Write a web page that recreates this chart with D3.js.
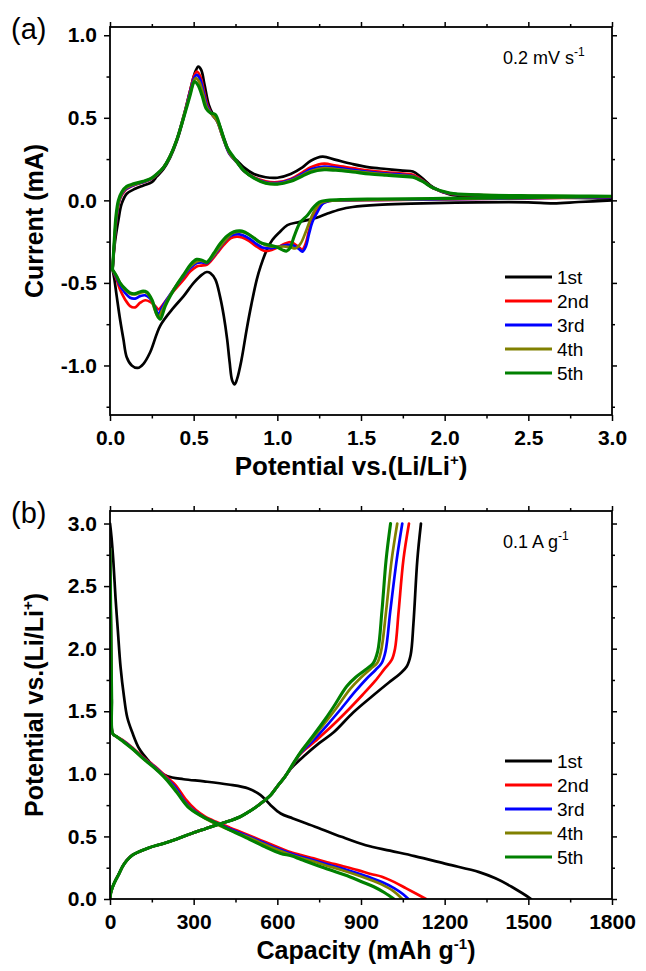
<!DOCTYPE html>
<html><head><meta charset="utf-8">
<script src="https://cdn.jsdelivr.net/npm/d3@7"></script>
<style>
body{margin:0;background:#fff}
svg{display:block}
text{font-family:"Liberation Sans",Arial,sans-serif;fill:#000}
</style>
</head><body>
<svg id="c" width="646" height="971"></svg>
<script>
// ---------- labels / colours ----------
const cycleLabels = ["1st", "2nd", "3rd", "4th", "5th"];
const cycleColors = ["#000000", "#ff0000", "#0000ff", "#808000", "#008000"];

// ---------- panel (a): CV, [potential V, current mA] ----------
const cvCathodic1 = [[3.0,0.0],[2.8,-0.01],[2.65,-0.018],[2.5,-0.012],[2.2,-0.012],[2.0,-0.015],[1.8,-0.02],[1.6,-0.027],[1.45,-0.04],[1.375,-0.055],[1.3,-0.08],[1.235,-0.105],[1.135,-0.13],[1.06,-0.15],[1.016,-0.19],[0.97,-0.24],[0.937,-0.30],[0.9,-0.4],[0.877,-0.48],[0.845,-0.63],[0.817,-0.78],[0.785,-0.97],[0.76,-1.08],[0.745,-1.115],[0.73,-1.09],[0.715,-0.98],[0.70,-0.84],[0.68,-0.7],[0.657,-0.58],[0.63,-0.48],[0.6,-0.44],[0.578,-0.434],[0.55,-0.45],[0.5,-0.5],[0.44,-0.58],[0.38,-0.65],[0.3,-0.76],[0.24,-0.92],[0.2,-0.99],[0.165,-1.015],[0.13,-1.0],[0.1,-0.95],[0.08,-0.84],[0.06,-0.72],[0.04,-0.58],[0.025,-0.47],[0.015,-0.42]];
const cvAnodic1 = [[0.015,-0.42],[0.03,-0.25],[0.05,-0.12],[0.07,-0.02],[0.1,0.04],[0.15,0.07],[0.2,0.09],[0.25,0.11],[0.28,0.145],[0.32,0.19],[0.36,0.26],[0.4,0.36],[0.44,0.5],[0.48,0.67],[0.51,0.78],[0.528,0.81],[0.545,0.79],[0.565,0.7],[0.59,0.58],[0.616,0.52],[0.645,0.48],[0.68,0.38],[0.72,0.28],[0.76,0.24],[0.8,0.2],[0.86,0.16],[0.93,0.14],[1.0,0.137],[1.08,0.16],[1.15,0.2],[1.2,0.24],[1.27,0.265],[1.35,0.245],[1.45,0.22],[1.55,0.2],[1.65,0.19],[1.75,0.18],[1.81,0.175],[1.86,0.14],[1.93,0.08],[2.03,0.036],[2.2,0.025],[2.5,0.02],[2.8,0.015],[3.0,0.012]];

const cvCathodic2 = [[3.0,0.02],[2.5,0.012],[2.0,0.006],[1.6,0.002],[1.4,0.0],[1.3,-0.006],[1.27,-0.02],[1.24,-0.06],[1.215,-0.105],[1.19,-0.18],[1.17,-0.26],[1.15,-0.297],[1.13,-0.285],[1.1,-0.262],[1.076,-0.253],[1.04,-0.265],[1.0,-0.285],[0.95,-0.305],[0.92,-0.305],[0.87,-0.275],[0.83,-0.245],[0.79,-0.225],[0.757,-0.22],[0.72,-0.23],[0.68,-0.27],[0.64,-0.32],[0.6,-0.37],[0.578,-0.39],[0.545,-0.395],[0.518,-0.40],[0.48,-0.43],[0.44,-0.48],[0.38,-0.55],[0.34,-0.6],[0.31,-0.64],[0.29,-0.66],[0.27,-0.64],[0.24,-0.615],[0.21,-0.605],[0.18,-0.62],[0.15,-0.648],[0.12,-0.64],[0.09,-0.6],[0.06,-0.54],[0.04,-0.48],[0.015,-0.42]];
const cvAnodic2 = [[0.015,-0.42],[0.025,-0.28],[0.04,-0.1],[0.06,0.01],[0.09,0.06],[0.14,0.09],[0.2,0.11],[0.25,0.13],[0.28,0.155],[0.32,0.2],[0.36,0.27],[0.4,0.37],[0.44,0.51],[0.48,0.67],[0.505,0.76],[0.52,0.78],[0.54,0.75],[0.56,0.67],[0.585,0.57],[0.61,0.52],[0.64,0.48],[0.675,0.38],[0.715,0.28],[0.76,0.23],[0.8,0.18],[0.86,0.14],[0.93,0.115],[1.0,0.11],[1.08,0.13],[1.15,0.17],[1.2,0.2],[1.28,0.222],[1.35,0.21],[1.45,0.195],[1.55,0.18],[1.65,0.17],[1.75,0.162],[1.81,0.155],[1.87,0.12],[1.93,0.075],[2.03,0.04],[2.2,0.03],[2.5,0.025],[2.8,0.022],[3.0,0.02]];

const cvCathodic3 = [[3.0,0.02],[2.5,0.013],[2.0,0.007],[1.6,0.003],[1.4,0.0],[1.3,-0.006],[1.27,-0.02],[1.24,-0.07],[1.21,-0.13],[1.19,-0.2],[1.17,-0.28],[1.15,-0.31],[1.13,-0.295],[1.1,-0.275],[1.07,-0.27],[1.03,-0.275],[0.99,-0.285],[0.95,-0.29],[0.91,-0.285],[0.87,-0.26],[0.83,-0.23],[0.79,-0.21],[0.76,-0.205],[0.72,-0.215],[0.68,-0.255],[0.64,-0.31],[0.6,-0.36],[0.578,-0.38],[0.545,-0.375],[0.518,-0.38],[0.48,-0.41],[0.44,-0.46],[0.38,-0.54],[0.34,-0.6],[0.31,-0.65],[0.29,-0.69],[0.27,-0.65],[0.24,-0.595],[0.21,-0.575],[0.18,-0.58],[0.15,-0.595],[0.12,-0.59],[0.09,-0.56],[0.06,-0.515],[0.04,-0.47],[0.015,-0.42]];
const cvAnodic3 = [[0.015,-0.42],[0.025,-0.27],[0.04,-0.09],[0.06,0.015],[0.09,0.065],[0.14,0.092],[0.2,0.112],[0.25,0.132],[0.28,0.157],[0.32,0.2],[0.36,0.27],[0.4,0.37],[0.44,0.51],[0.48,0.66],[0.505,0.745],[0.518,0.76],[0.538,0.735],[0.558,0.66],[0.583,0.565],[0.61,0.52],[0.64,0.48],[0.675,0.38],[0.715,0.28],[0.76,0.228],[0.8,0.178],[0.86,0.138],[0.93,0.11],[1.0,0.105],[1.08,0.125],[1.15,0.16],[1.2,0.188],[1.28,0.205],[1.35,0.198],[1.45,0.185],[1.55,0.172],[1.65,0.162],[1.75,0.155],[1.81,0.148],[1.87,0.117],[1.93,0.075],[2.03,0.042],[2.2,0.032],[2.5,0.026],[2.8,0.023],[3.0,0.021]];

const cvCathodic4 = [[3.0,0.022],[2.5,0.015],[2.0,0.009],[1.6,0.004],[1.4,0.001],[1.3,-0.004],[1.26,-0.015],[1.23,-0.05],[1.2,-0.11],[1.17,-0.19],[1.14,-0.26],[1.11,-0.29],[1.08,-0.285],[1.05,-0.28],[1.01,-0.28],[0.97,-0.28],[0.93,-0.272],[0.89,-0.25],[0.85,-0.22],[0.81,-0.198],[0.77,-0.19],[0.73,-0.2],[0.69,-0.24],[0.65,-0.29],[0.61,-0.345],[0.578,-0.375],[0.545,-0.365],[0.518,-0.37],[0.48,-0.4],[0.44,-0.455],[0.38,-0.54],[0.34,-0.61],[0.31,-0.67],[0.29,-0.71],[0.27,-0.67],[0.24,-0.585],[0.21,-0.555],[0.18,-0.56],[0.15,-0.57],[0.12,-0.565],[0.09,-0.54],[0.06,-0.5],[0.04,-0.46],[0.015,-0.42]];
const cvAnodic4 = [[0.015,-0.42],[0.025,-0.26],[0.04,-0.08],[0.06,0.02],[0.09,0.07],[0.14,0.095],[0.2,0.114],[0.25,0.134],[0.28,0.158],[0.32,0.2],[0.36,0.27],[0.4,0.37],[0.44,0.51],[0.48,0.65],[0.5,0.72],[0.512,0.74],[0.532,0.72],[0.555,0.65],[0.58,0.56],[0.61,0.52],[0.64,0.48],[0.675,0.38],[0.715,0.285],[0.76,0.228],[0.8,0.178],[0.86,0.136],[0.93,0.106],[1.0,0.1],[1.08,0.12],[1.15,0.153],[1.2,0.178],[1.28,0.195],[1.35,0.19],[1.45,0.178],[1.55,0.166],[1.65,0.157],[1.75,0.15],[1.81,0.144],[1.87,0.115],[1.93,0.075],[2.03,0.043],[2.2,0.033],[2.5,0.027],[2.8,0.024],[3.0,0.022]];

const cvCathodic5 = [[3.0,0.025],[2.5,0.018],[2.0,0.012],[1.6,0.008],[1.4,0.005],[1.3,0.0],[1.25,-0.01],[1.215,-0.044],[1.18,-0.09],[1.136,-0.135],[1.1,-0.22],[1.075,-0.29],[1.056,-0.307],[1.03,-0.3],[1.0,-0.285],[0.95,-0.27],[0.9,-0.256],[0.85,-0.22],[0.8,-0.19],[0.777,-0.185],[0.74,-0.19],[0.7,-0.215],[0.66,-0.26],[0.62,-0.32],[0.59,-0.365],[0.578,-0.375],[0.55,-0.362],[0.518,-0.357],[0.48,-0.39],[0.44,-0.45],[0.4,-0.51],[0.36,-0.58],[0.33,-0.64],[0.3,-0.72],[0.28,-0.69],[0.25,-0.6],[0.22,-0.555],[0.19,-0.55],[0.15,-0.565],[0.12,-0.56],[0.09,-0.535],[0.06,-0.5],[0.04,-0.46],[0.015,-0.42]];
const cvAnodic5 = [[0.015,-0.42],[0.025,-0.25],[0.035,-0.1],[0.05,0.0],[0.07,0.05],[0.1,0.085],[0.14,0.1],[0.2,0.116],[0.25,0.136],[0.28,0.16],[0.32,0.2],[0.36,0.27],[0.4,0.37],[0.44,0.5],[0.48,0.64],[0.495,0.70],[0.505,0.72],[0.525,0.70],[0.55,0.635],[0.575,0.555],[0.6,0.53],[0.63,0.52],[0.66,0.44],[0.7,0.32],[0.74,0.26],[0.8,0.18],[0.86,0.135],[0.93,0.104],[1.0,0.098],[1.08,0.115],[1.15,0.147],[1.2,0.17],[1.28,0.185],[1.35,0.182],[1.45,0.172],[1.55,0.16],[1.65,0.152],[1.75,0.145],[1.81,0.14],[1.87,0.113],[1.93,0.076],[2.03,0.045],[2.2,0.034],[2.5,0.028],[2.8,0.026],[3.0,0.025]];

// ---------- panel (b): galvanostatic, [capacity mAh/g, potential V] ----------
const dis1 = [[0,3.0],[5,2.9],[12,2.7],[20,2.4],[28,2.15],[38,1.85],[50,1.62],[62,1.45],[80,1.33],[105,1.2],[140,1.1],[170,1.03],[206,0.98],[264,0.957],[337,0.94],[424,0.915],[496,0.883],[540,0.83],[576,0.75],[612,0.683],[656,0.644],[743,0.572],[830,0.497],[917,0.43],[1004,0.386],[1092,0.343],[1208,0.279],[1324,0.215],[1382,0.165],[1440,0.098],[1490,0.03],[1510,0.0]];
const chg1 = [[0,0.0],[3,0.05],[10,0.1],[20,0.15],[32,0.2],[45,0.26],[61,0.31],[80,0.35],[104,0.378],[140,0.41],[192,0.444],[240,0.48],[293,0.524],[340,0.56],[380,0.59],[430,0.625],[467,0.657],[500,0.7],[525,0.737],[550,0.78],[576,0.83],[600,0.9],[627,0.976],[650,1.045],[700,1.15],[750,1.245],[801,1.33],[872,1.49],[940,1.62],[1000,1.73],[1040,1.8],[1064,1.858],[1078,1.95],[1088,2.2],[1102,2.71],[1115,3.0]];

const dis2 = [[0,2.8],[3,2.2],[6,1.6],[10,1.32],[22,1.3],[46,1.27],[80,1.21],[120,1.13],[163,1.056],[200,0.98],[235,0.91],[270,0.8],[308,0.71],[340,0.66],[380,0.617],[430,0.57],[482,0.524],[540,0.47],[598,0.418],[640,0.38],[685,0.351],[730,0.325],[772,0.298],[830,0.265],[888,0.231],[935,0.2],[975,0.178],[1020,0.135],[1062,0.085],[1100,0.04],[1133,0.0]];
const chg2 = [[0,0.0],[3,0.05],[10,0.1],[20,0.15],[32,0.2],[45,0.26],[61,0.31],[80,0.35],[104,0.378],[140,0.41],[192,0.444],[240,0.48],[293,0.524],[340,0.56],[380,0.59],[430,0.625],[467,0.657],[500,0.7],[525,0.737],[550,0.78],[576,0.83],[600,0.9],[627,0.976],[650,1.05],[681,1.155],[735,1.26],[790,1.37],[845,1.49],[905,1.63],[950,1.74],[985,1.84],[1010,1.91],[1022,2.0],[1035,2.3],[1052,2.71],[1072,3.0]];

const dis3 = [[0,2.8],[3,2.2],[6,1.6],[10,1.32],[22,1.3],[46,1.265],[80,1.205],[120,1.125],[163,1.05],[200,0.97],[235,0.89],[270,0.775],[305,0.7],[340,0.65],[380,0.61],[430,0.56],[482,0.514],[540,0.46],[598,0.405],[640,0.37],[685,0.338],[730,0.31],[772,0.282],[830,0.245],[888,0.205],[935,0.17],[975,0.135],[1020,0.085],[1050,0.04],[1070,0.0]];
const chg3 = [[0,0.0],[3,0.05],[10,0.1],[20,0.15],[32,0.2],[45,0.26],[61,0.31],[80,0.35],[104,0.378],[140,0.41],[192,0.444],[240,0.48],[293,0.524],[340,0.56],[380,0.59],[430,0.625],[467,0.657],[500,0.7],[525,0.737],[550,0.78],[576,0.83],[600,0.9],[627,0.976],[650,1.052],[681,1.16],[730,1.27],[775,1.38],[825,1.51],[880,1.66],[920,1.76],[952,1.83],[974,1.885],[988,1.98],[1005,2.3],[1028,2.71],[1048,3.0]];

const dis4 = [[0,2.8],[3,2.2],[6,1.6],[10,1.32],[22,1.3],[46,1.262],[80,1.2],[120,1.12],[163,1.045],[200,0.965],[235,0.875],[270,0.765],[305,0.695],[340,0.645],[380,0.6],[430,0.552],[482,0.505],[540,0.45],[598,0.395],[640,0.36],[685,0.327],[730,0.3],[772,0.27],[830,0.232],[888,0.19],[935,0.152],[975,0.115],[1015,0.065],[1048,0.0]];
const chg4 = [[0,0.0],[3,0.05],[10,0.1],[20,0.15],[32,0.2],[45,0.26],[61,0.31],[80,0.35],[104,0.378],[140,0.41],[192,0.444],[240,0.48],[293,0.524],[340,0.56],[380,0.59],[430,0.625],[467,0.657],[500,0.7],[525,0.737],[550,0.78],[576,0.83],[600,0.9],[627,0.976],[650,1.055],[681,1.163],[725,1.28],[765,1.39],[810,1.52],[862,1.68],[900,1.77],[935,1.84],[958,1.885],[972,1.98],[990,2.3],[1010,2.71],[1030,3.0]];

const dis5 = [[0,2.8],[3,2.2],[6,1.6],[10,1.32],[22,1.3],[46,1.26],[80,1.2],[120,1.12],[163,1.04],[200,0.96],[240,0.85],[279,0.737],[322,0.67],[395,0.59],[440,0.54],[482,0.497],[554,0.418],[612,0.364],[650,0.345],[685,0.316],[772,0.245],[859,0.178],[900,0.14],[946,0.098],[985,0.05],[1018,0.0]];
const chg5 = [[0,0.0],[3,0.05],[10,0.1],[20,0.15],[32,0.2],[45,0.26],[61,0.31],[80,0.35],[104,0.378],[140,0.41],[192,0.444],[240,0.48],[293,0.524],[340,0.56],[380,0.59],[430,0.625],[467,0.657],[500,0.7],[525,0.737],[550,0.78],[576,0.83],[600,0.9],[627,0.976],[650,1.058],[681,1.166],[720,1.28],[760,1.4],[800,1.53],[849,1.70],[880,1.77],[915,1.83],[944,1.885],[960,1.98],[975,2.3],[990,2.71],[1006,3.0]];

// ---------- ticks ----------
const cvXTicks = [0, 0.5, 1.0, 1.5, 2.0, 2.5, 3.0];
const cvYTicks = [-1.0, -0.5, 0.0, 0.5, 1.0];
const gcXTicks = [0, 300, 600, 900, 1200, 1500, 1800];
const gcYTicks = [0.0, 0.5, 1.0, 1.5, 2.0, 2.5, 3.0];

const cvSeries = [cvCathodic1.concat(cvAnodic1), cvCathodic2.concat(cvAnodic2), cvCathodic3.concat(cvAnodic3), cvCathodic4.concat(cvAnodic4), cvCathodic5.concat(cvAnodic5)];
const gcSeries = [[dis1, chg1], [dis2, chg2], [dis3, chg3], [dis4, chg4], [dis5, chg5]];

const svg = d3.select("#c");
const L = 110, R = 612;

function minorOf(ticks){
  const out = [];
  for (let i = 0; i < ticks.length - 1; i++) out.push((ticks[i] + ticks[i+1]) / 2);
  return out;
}

function panel(cfg){
  const x = d3.scaleLinear().domain(cfg.xd).range([L, R]);
  const y = d3.scaleLinear().domain(cfg.yd).range([cfg.bottom, cfg.top]);
  const g = svg.append("g");
  const clipId = "clip" + cfg.id;
  svg.append("clipPath").attr("id", clipId).append("rect")
    .attr("x", L).attr("y", cfg.top).attr("width", R - L).attr("height", cfg.bottom - cfg.top);

  const line = d3.line().x(d => x(d[0])).y(d => y(d[1])).curve(d3.curveCatmullRom.alpha(0.5));
  const lg = g.append("g").attr("clip-path", `url(#${clipId})`);
  cfg.series.forEach((paths, i) => {
    paths.forEach(p => {
      lg.append("path").attr("d", line(p)).attr("fill", "none")
        .attr("stroke", cycleColors[i]).attr("stroke-width", i === 4 ? 3.1 : 2.7)
        .attr("stroke-linejoin", "round").attr("stroke-linecap", "round");
    });
  });

  const xMinor = minorOf(cfg.xt), yMinor = cfg.yMinor;
  const styleAxis = sel => { sel.select(".domain").remove(); sel.selectAll("line").attr("stroke", "#000").attr("stroke-width", 1.5); };
  const styleText = s => s.selectAll("text").attr("font-size", 21).attr("font-weight", "bold").attr("font-family", "Liberation Sans, Arial, sans-serif").attr("fill", "#000");
  // bottom
  g.append("g").attr("transform", `translate(0,${cfg.bottom})`)
    .call(d3.axisBottom(x).tickValues(cfg.xt).tickSize(6).tickPadding(9).tickFormat(cfg.xf))
    .call(styleAxis).call(styleText);
  g.append("g").attr("transform", `translate(0,${cfg.bottom})`)
    .call(d3.axisBottom(x).tickValues(xMinor).tickSize(3.5).tickFormat("")).call(styleAxis);
  // top
  g.append("g").attr("transform", `translate(0,${cfg.top})`)
    .call(d3.axisTop(x).tickValues(cfg.xt).tickSize(5).tickFormat("")).call(styleAxis);
  g.append("g").attr("transform", `translate(0,${cfg.top})`)
    .call(d3.axisTop(x).tickValues(xMinor).tickSize(3).tickFormat("")).call(styleAxis);
  // left
  g.append("g").attr("transform", `translate(${L},0)`)
    .call(d3.axisLeft(y).tickValues(cfg.yt).tickSize(6).tickPadding(7).tickFormat(d => d.toFixed(1)))
    .call(styleAxis).call(styleText);
  g.append("g").attr("transform", `translate(${L},0)`)
    .call(d3.axisLeft(y).tickValues(yMinor).tickSize(3.5).tickFormat("")).call(styleAxis);
  // right
  g.append("g").attr("transform", `translate(${R},0)`)
    .call(d3.axisRight(y).tickValues(cfg.yt).tickSize(5).tickFormat("")).call(styleAxis);
  g.append("g").attr("transform", `translate(${R},0)`)
    .call(d3.axisRight(y).tickValues(yMinor).tickSize(3).tickFormat("")).call(styleAxis);

  g.append("rect").attr("x", L).attr("y", cfg.top).attr("width", R - L).attr("height", cfg.bottom - cfg.top)
    .attr("fill", "none").attr("stroke", "#000").attr("stroke-width", 1.8);

  // panel letter
  g.append("text").attr("x", 11).attr("y", cfg.top + 12).attr("font-size", 29).text(cfg.letter);

  // annotation
  const an = g.append("text").attr("x", 503).attr("y", cfg.top + 37).attr("font-size", 18);
  an.append("tspan").text(cfg.note[0]);
  an.append("tspan").attr("font-size", 12).attr("dy", -8).text(cfg.note[1]);

  // legend
  cycleLabels.forEach((lab, i) => {
    const yy = cfg.legendY + i * 24;
    g.append("line").attr("x1", 505).attr("x2", 552).attr("y1", yy).attr("y2", yy)
      .attr("stroke", cycleColors[i]).attr("stroke-width", 3);
    g.append("text").attr("x", 557).attr("y", yy).attr("dy", "0.36em").attr("font-size", 19).text(lab);
  });

  // x title
  const xt = g.append("text").attr("x", (L + R) / 2 + cfg.xTitleShift).attr("y", cfg.bottom + 60)
    .attr("text-anchor", "middle").attr("font-size", cfg.xTitleSize).attr("font-weight", "bold");
  cfg.xTitle.forEach(p => {
    const t = xt.append("tspan").text(p.t);
    if (p.sup) t.attr("font-size", 15).attr("dy", -10);
    if (p.down) t.attr("dy", 10);
  });
  // y title
  const yt = g.append("text").attr("transform", `translate(${cfg.yTitleX},${(cfg.top + cfg.bottom) / 2 + cfg.yTitleShift}) rotate(-90)`)
    .attr("text-anchor", "middle").attr("font-size", cfg.yTitleSize).attr("font-weight", "bold");
  cfg.yTitle.forEach(p => {
    const t = yt.append("tspan").text(p.t);
    if (p.sup) t.attr("font-size", 15).attr("dy", -10);
    if (p.down) t.attr("dy", 10);
  });
}

panel({
  id: "a", letter: "(a)", top: 27, bottom: 415, xd: [0, 3], yd: [-1.3, 1.05],
  xt: cvXTicks, yt: cvYTicks, yMinor: [-1.25, -0.75, -0.25, 0.25, 0.75],
  xf: d => d.toFixed(1), series: cvSeries.map(s => [s]),
  note: ["0.2 mV s", "-1"], legendY: 277,
  xTitle: [{t: "Potential vs.(Li/Li"}, {t: "+", sup: true}, {t: ")", down: true}], xTitleShift: -10, xTitleSize: 26,
  yTitle: [{t: "Current (mA)"}], yTitleX: 43, yTitleShift: 0, yTitleSize: 25
});
panel({
  id: "b", letter: "(b)", top: 511, bottom: 899, xd: [0, 1800], yd: [0, 3.1],
  xt: gcXTicks, yt: gcYTicks, yMinor: [0.25, 0.75, 1.25, 1.75, 2.25, 2.75],
  xf: d => String(d), series: gcSeries,
  note: ["0.1 A g", "-1"], legendY: 761,
  xTitle: [{t: "Capacity (mAh g"}, {t: "-1", sup: true}, {t: ")", down: true}], xTitleShift: 5, xTitleSize: 25,
  yTitle: [{t: "Potential vs.(Li/Li"}, {t: "+", sup: true}, {t: ")", down: true}], yTitleX: 43, yTitleShift: 0, yTitleSize: 25
});
</script>
</body></html>
